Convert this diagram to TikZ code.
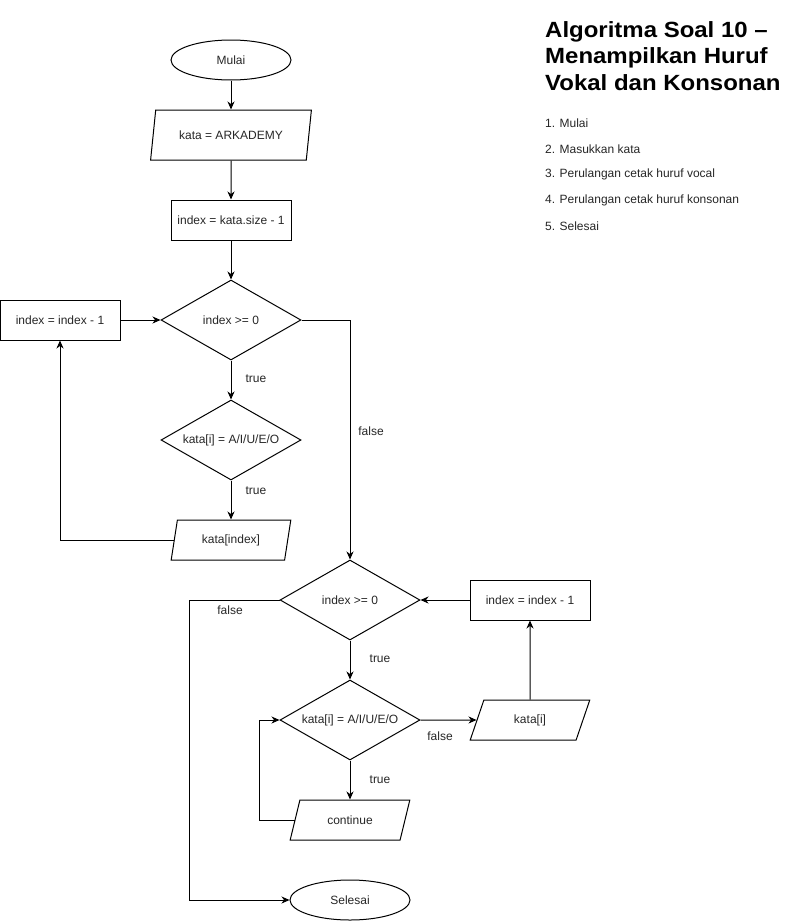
\documentclass[tikz,border=0pt]{standalone}
\usepackage{fontspec}
\setmainfont{Liberation Sans}
\newfontfamily\titlefont[FakeStretch=1.09]{Liberation Sans}
\usetikzlibrary{shapes.geometric,arrows.meta}
\begin{document}
\begin{tikzpicture}[x=1pt,y=-1pt,
  every node/.style={font=\fontsize{12}{14}\selectfont, text=black!85},
  box/.style={draw, line width=1pt, minimum width=120pt, minimum height=40pt, inner sep=0pt},
  oval/.style={draw, ellipse, line width=1pt, minimum width=120pt, minimum height=40pt, inner sep=0pt},
  dec/.style={draw, diamond, aspect=1.75, line width=1pt, minimum width=140pt, minimum height=80pt, inner sep=0pt},
  para/.style={draw, trapezium, trapezium stretches=true, line width=1pt, minimum height=40pt, inner sep=0pt, trapezium left angle=#1, trapezium right angle=180-#1},
  conn/.style={line width=1pt, -{Stealth[length=8pt,width=7pt,inset=2.5pt]}},
  lbl/.style={font=\fontsize{12}{14}\selectfont},
  titleline/.style={anchor=base west, inner sep=0pt, font=\titlefont\fontsize{22}{26}\selectfont\bfseries, text=black},
  item/.style={anchor=west, inner sep=0pt, font=\fontsize{12}{14}\selectfont}
]
\useasboundingbox (0,0) rectangle (791,921);

% left column
\node[oval] (m) at (231,60) {Mulai};
\node[para=68.2, minimum width=161pt, minimum height=50pt] (p1) at (231,135) {kata = ARKADEMY};
\node[box] (r1) at (231,220) {index = kata.size - 1};
\node[dec] (d1) at (231,320) {index >= 0};
\node[box] (r0) at (60,320) {index = index - 1};
\node[dec] (d2) at (231,440) {kata[i] = A/I/U/E/O};
\node[para=73.3, minimum width=120pt] (p2) at (231,540) {kata[index]};

% right column
\node[dec] (d3) at (350,600) {index >= 0};
\node[box] (r2) at (530,600) {index = index - 1};
\node[dec] (d4) at (350,720) {kata[i] = A/I/U/E/O};
\node[para=67, minimum width=120pt] (p3) at (530,720) {kata[i]};
\node[para=63.43, minimum width=120pt] (p4) at (350,820) {continue};
\node[oval] (e) at (350,900) {Selesai};

% connectors
\draw[conn] (m) -- (p1);
\draw[conn] (p1) -- (r1);
\draw[conn] (r1) -- (d1);
\draw[conn] (d1) -- (d2);
\draw[conn] (d2) -- (p2);
\draw[conn] (p2.west) -| (r0.south);
\draw[conn] (r0) -- (d1);
\draw[conn] (d1.east) -| (d3.north);
\draw[conn] (d3) -- (d4);
\draw[conn] (d4) -- (p4);
\draw[conn] (d4.east) -- (p3.west);
\draw[conn] (p3) -- (r2);
\draw[conn] (r2) -- (d3);
\draw[conn] (p4.west) -- ++(-35,0) |- (d4.west);
\draw[conn] (d3.west) -- ++(-90,0) |- (e.west);

% labels
\node[lbl] (t1) at (256,379) {true};
\node[lbl] (t2) at (256,491) {true};
\node[lbl] (f1) at (371,431) {false};
\node[lbl] (t3) at (380,659) {true};
\node[lbl] (t4) at (380,780) {true};
\node[lbl] (f2) at (440,736) {false};
\node[lbl] (f3) at (230,610) {false};

% title and list
\node[titleline] (h1) at (545,37) {Algoritma Soal 10 –};
\node[titleline] (h2) at (545,63.5) {Menampilkan Huruf};
\node[titleline] (h3) at (545,90) {Vokal dan Konsonan};
\node[item] (i1) at (545,123.5) {1. Mulai};
\node[item] (i2) at (545,149.5) {2. Masukkan kata};
\node[item] (i3) at (545,174.5) {3. Perulangan cetak huruf vocal};
\node[item] (i4) at (545,200.5) {4. Perulangan cetak huruf konsonan};
\node[item] (i5) at (545,226.5) {5. Selesai};
\end{tikzpicture}
\end{document}
